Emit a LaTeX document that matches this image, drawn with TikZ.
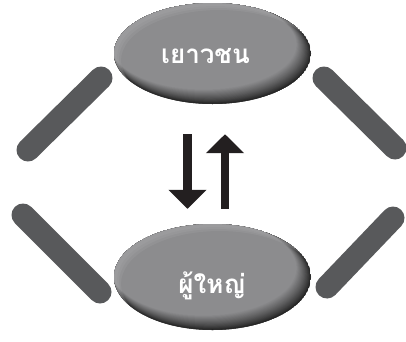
\documentclass[tikz,border=0pt]{standalone}
\usepackage{fontspec}
\usetikzlibrary{positioning, shapes.geometric, arrows.meta}
\newfontfamily\thaifont[Script=Thai]{Loma}
\definecolor{barColor}{HTML}{58595B}
\definecolor{arrowColor}{HTML}{231F20}
\definecolor{pebbleMid}{HTML}{8C8C8E}
\definecolor{pebbleRim}{HTML}{B0B0B2}
\definecolor{pebbleDark}{HTML}{202020}
\tikzstyle{pixelGrid} = [x = 1pt, y = -1pt]
\tikzstyle{barStyle} = [color=barColor, line width=23pt, line cap=round]
\tikzstyle{pebbleSpot} = [ellipse, inner sep=0pt, minimum width=197pt]
\tikzstyle{pebbleText} = [font=\thaifont\bfseries\fontsize{26}{30}\selectfont, text=white]
\tikzstyle{swapArrow} = [color=arrowColor, line width=8.5pt, -{Triangle[width=37pt, length=19pt]}]
\newcommand{\stickBar}[2]{\draw [barStyle] (#1) -- (#2);}
% #1 node, #2 x radius, #3 y radius
\newcommand{\pebble}[3]{
  \begin{scope}
    \clip (#1.center) ellipse [x radius=#2pt, y radius=#3pt];
    \fill [pebbleDark] (#1.center) ellipse [x radius=#2pt, y radius=#3pt];
    \foreach \k in {0,...,28} {
      \pgfmathsetmacro{\mix}{100*(\k/28)^0.8}
      \pgfmathsetmacro{\rx}{#2 - \k*0.2}
      \pgfmathsetmacro{\ry}{#3 - \k*0.2}
      \fill [pebbleMid!\mix!pebbleDark] ([shift={(-\k*0.32, -\k*0.32)}]#1.center) ellipse [x radius=\rx pt, y radius=\ry pt];
    }
    \foreach \s in {3,5,7} {
      \fill [pebbleRim, opacity=0.18, even odd rule] (#1.center) ellipse [x radius=#2pt, y radius=#3pt] ([shift={(\s, \s)}]#1.center) ellipse [x radius=#2pt, y radius=#3pt];
    }
  \end{scope}
}

\begin{document}
\begin{tikzpicture}[pixelGrid]
\useasboundingbox (0,0) rectangle (406,341);
\stickBar{28,150}{101,78}
\stickBar{324,78}{395,148}
\stickBar{23,215}{100,292}
\stickBar{327,287}{393,218}
\node [pebbleSpot, minimum height=101pt] (youth) at (212.5,53.5) {};
\node [pebbleSpot, minimum height=106pt] (adult) at (212.5,277) {};
\pebble{youth}{98.5}{50.5}
\pebble{adult}{98.5}{53}
\node [pebbleText] (youthText) at ([shift={(-7,2.5)}]youth.center) {เยาวชน};
\node [pebbleText] (adultText) at ([shift={(-0.5,9)}]adult.center) {ผู้ใหญ่};
\draw [swapArrow] ([shift={(-25,30)}]youth.south) -- ([shift={(-25,-15)}]adult.north);
\draw [swapArrow] ([shift={(12.5,-15)}]adult.north) -- ([shift={(12.5,30)}]youth.south);
\end{tikzpicture}
\end{document}
